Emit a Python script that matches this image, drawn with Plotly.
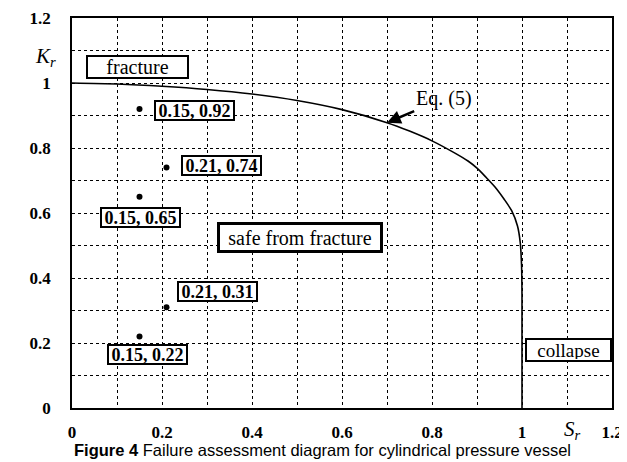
import plotly.graph_objects as go

# Failure assessment curve
curve_sr = [0.0, 0.1, 0.2, 0.3, 0.4, 0.5, 0.6, 0.7, 0.75, 0.8, 0.85, 0.88, 0.9, 0.92, 0.94, 0.96, 0.977, 0.99, 0.996, 0.999, 1.0, 1.0]
curve_kr = [1.0, 0.997, 0.99, 0.98, 0.966, 0.946, 0.918, 0.878, 0.852, 0.822, 0.785, 0.76, 0.738, 0.71, 0.68, 0.643, 0.607, 0.56, 0.51, 0.44, 0.35, 0.0]

# Assessment points
pt_sr = [0.15, 0.21, 0.15, 0.21, 0.15]
pt_kr = [0.92, 0.74, 0.65, 0.31, 0.22]
pt_labels = ["0.15, 0.92", "0.21, 0.74", "0.15, 0.65", "0.21, 0.31", "0.15, 0.22"]
label_x = [0.272, 0.333, 0.153, 0.323, 0.167]
label_y = [0.915, 0.746, 0.586, 0.357, 0.166]

tick_vals = [0, 0.2, 0.4, 0.6, 0.8, 1, 1.2]
tick_text = ["0", "0.2", "0.4", "0.6", "0.8", "1", "1.2"]

serif = "Liberation Serif, Times New Roman, serif"

fig = go.Figure()
fig.add_trace(go.Scatter(x=curve_sr, y=curve_kr, mode="lines",
                         line=dict(color="black", width=1.6, shape="spline", smoothing=0.8),
                         showlegend=False, hoverinfo="skip"))
fig.add_trace(go.Scatter(x=pt_sr, y=pt_kr, mode="markers",
                         marker=dict(color="black", size=6), showlegend=False))

for t, x, y in zip(pt_labels, label_x, label_y):
    fig.add_annotation(x=x, y=y, text=t, font=dict(family=serif, size=18, color="black", weight="bold"),
                       bordercolor="black", borderwidth=2, bgcolor="white", showarrow=False,
                       borderpad=0, width=77, height=17)

fig.add_annotation(x=0.146, y=1.049, text="fracture", font=dict(family=serif, size=20, color="black"),
                   bordercolor="black", borderwidth=2, bgcolor="white", showarrow=False,
                   borderpad=1, width=97, height=18)
fig.add_annotation(x=0.507, y=0.525, text="safe from fracture", font=dict(family=serif, size=20, color="black"),
                   bordercolor="black", borderwidth=3, bgcolor="white", showarrow=False,
                   borderpad=1, width=158, height=23)
fig.add_annotation(x=1.103, y=0.18, text="collapse", font=dict(family=serif, size=19, color="black"),
                   bordercolor="black", borderwidth=2, bgcolor="white", showarrow=False,
                   borderpad=1, width=81, height=18)

# Eq. (5) with arrow
fig.add_annotation(x=0.7, y=0.878, ax=0.826, ay=0.952, axref="x", ayref="y", text="Eq. (5)",
                   font=dict(family=serif, size=20, color="black"), showarrow=True,
                   arrowhead=2, arrowsize=1.1, arrowwidth=2.5, arrowcolor="black", standoff=0, startstandoff=0)

# axis labels
fig.add_annotation(xref="paper", yref="paper", x=-0.05, y=0.9, xanchor="center", yanchor="middle",
                   text="<i>K<sub>r</sub></i>",
                   font=dict(family=serif, size=21, color="black"), showarrow=False)
fig.add_annotation(xref="paper", yref="paper", x=0.926, y=-0.056, xanchor="center", yanchor="middle",
                   text="<i>S<sub>r</sub></i>",
                   font=dict(family=serif, size=21, color="black"), showarrow=False)

# caption
fig.add_annotation(xref="paper", yref="paper", x=0.463, y=-0.108, xanchor="center", yanchor="middle",
                   text="<b>Figure 4</b> Failure assessment diagram for cylindrical pressure vessel",
                   font=dict(family="Liberation Sans, Arial, sans-serif", size=16.5, color="black"),
                   showarrow=False)

axis_common = dict(
    range=[0, 1.2], tickvals=tick_vals, ticktext=tick_text, automargin=False,
    showgrid=True, gridcolor="black", griddash="dot", gridwidth=1,
    minor=dict(dtick=0.1, tick0=0, showgrid=True, gridcolor="black", griddash="dot", gridwidth=1),
    showline=True, linecolor="black", linewidth=1.5, mirror=True,
    ticks="", zeroline=False,
    tickfont=dict(family=serif, size=17, color="black", weight="bold"),
)
fig.update_xaxes(**axis_common, ticklabelstandoff=8)
fig.update_yaxes(**axis_common, ticklabelstandoff=16)

# the page body adds an 8px offset, so margins are shifted to keep the plot box in place
fig.update_layout(
    width=627, height=462,
    margin=dict(l=64, r=23, t=10, b=62),
    paper_bgcolor="white", plot_bgcolor="white",
    showlegend=False,
)

fig.write_html("out.html")
